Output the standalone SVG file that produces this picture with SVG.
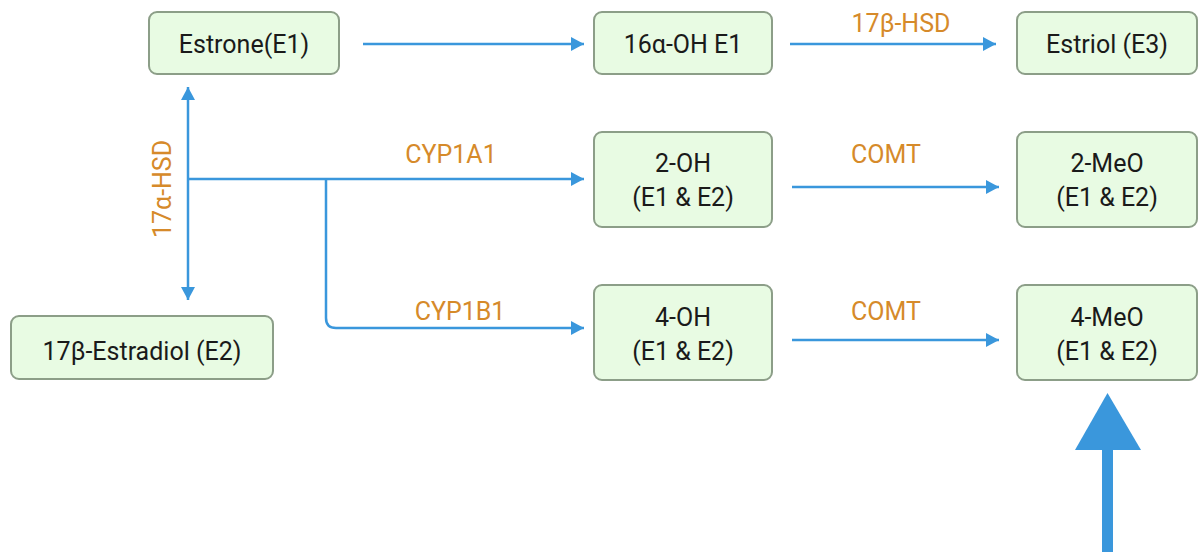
<svg xmlns="http://www.w3.org/2000/svg" width="1198" height="552" viewBox="0 0 1198 552">
  <style>
    .node rect { fill: #e8fbe3; stroke: #8c9e88; stroke-width: 2; }
    .node text { font-family: Roboto, "Liberation Sans", sans-serif; font-size: 25px; fill: #1a1a1a; text-anchor: middle; }
    .edge { fill: none; stroke: #3a97dc; stroke-width: 2.5; }
    .lbl { font-family: Roboto, "Liberation Sans", sans-serif; font-size: 25px; fill: #d68a2a; text-anchor: middle; }
  </style>
  <defs>
    <marker id="ah" markerWidth="14" markerHeight="14" refX="13" refY="7" orient="auto-start-reverse" markerUnits="userSpaceOnUse">
      <path d="M0,0 L13,7 L0,14 Z" fill="#3a97dc"/>
    </marker>
  </defs>

  <rect width="1198" height="552" fill="#ffffff"/>

  <!-- connectors -->
  <g id="connectors">
    <path class="edge" d="M363,44 H584" marker-end="url(#ah)"/>
    <path class="edge" d="M790,44 H996" marker-end="url(#ah)"/>
    <path class="edge" d="M188,87 V300" marker-start="url(#ah)" marker-end="url(#ah)"/>
    <path class="edge" d="M188,179 H584" marker-end="url(#ah)"/>
    <path class="edge" d="M326,179 V318 Q326,328 336,328 H584" marker-end="url(#ah)"/>
    <path class="edge" d="M792,187 H999" marker-end="url(#ah)"/>
    <path class="edge" d="M792,340 H999" marker-end="url(#ah)"/>
    <text class="lbl" x="901" y="32">17β-HSD</text>
    <text class="lbl" x="451" y="163">CYP1A1</text>
    <text class="lbl" x="460" y="320">CYP1B1</text>
    <text class="lbl" x="886" y="163">COMT</text>
    <text class="lbl" x="886" y="320">COMT</text>
    <text class="lbl" transform="translate(171,189) rotate(-90)">17α-HSD</text>
    <!-- large upward arrow -->
    <rect x="1102" y="448" width="11" height="104" fill="#3a97dc"/>
    <path d="M1107.5,393 L1141,450 L1075,450 Z" fill="#3a97dc"/>
  </g>

  <!-- nodes -->
  <g id="estrone" class="node">
    <rect x="149" y="12" width="190" height="62" rx="8"/>
    <text x="244" y="53">Estrone(E1)</text>
  </g>
  <g id="oh16" class="node">
    <rect x="594" y="12" width="178" height="62" rx="8"/>
    <text x="683" y="53">16α-OH E1</text>
  </g>
  <g id="estriol" class="node">
    <rect x="1017" y="12" width="180" height="62" rx="8"/>
    <text x="1107" y="53">Estriol (E3)</text>
  </g>
  <g id="oh2" class="node">
    <rect x="594" y="132" width="178" height="95" rx="8"/>
    <text x="683" y="172">2-OH</text>
    <text x="683" y="206">(E1 &amp; E2)</text>
  </g>
  <g id="meo2" class="node">
    <rect x="1017" y="132" width="180" height="95" rx="8"/>
    <text x="1107" y="172">2-MeO</text>
    <text x="1107" y="206">(E1 &amp; E2)</text>
  </g>
  <g id="oh4" class="node">
    <rect x="594" y="285" width="178" height="95" rx="8"/>
    <text x="683" y="326">4-OH</text>
    <text x="683" y="360">(E1 &amp; E2)</text>
  </g>
  <g id="meo4" class="node">
    <rect x="1017" y="285" width="180" height="95" rx="8"/>
    <text x="1107" y="326">4-MeO</text>
    <text x="1107" y="360">(E1 &amp; E2)</text>
  </g>
  <g id="estradiol" class="node">
    <rect x="11" y="316" width="262" height="63" rx="8"/>
    <text x="142" y="360">17β-Estradiol (E2)</text>
  </g>
</svg>
